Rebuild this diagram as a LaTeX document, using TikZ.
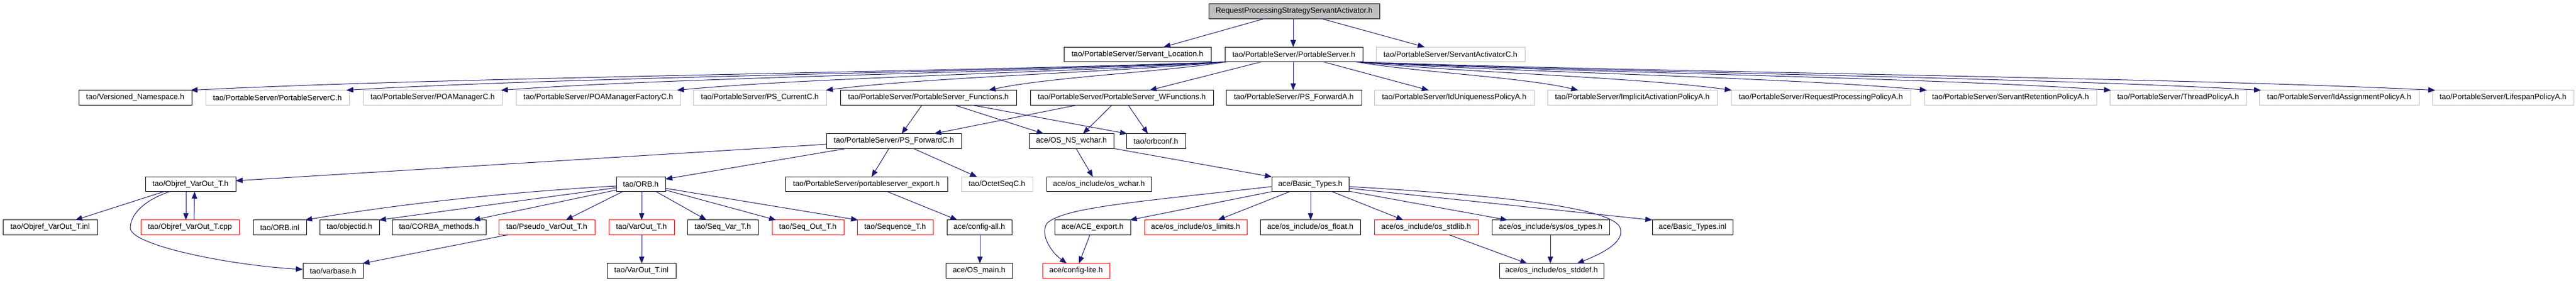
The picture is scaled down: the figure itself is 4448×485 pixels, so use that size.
\documentclass[tikz,border=0pt]{standalone}
\usepackage{fontspec}
\setmainfont{Liberation Sans}
\usetikzlibrary{arrows.meta,calc}
\definecolor{edgec}{HTML}{191970}
\definecolor{graybd}{HTML}{BFBFBF}
\definecolor{redbd}{HTML}{FF0000}
\begin{document}
\begin{tikzpicture}[x=0.75pt,y=-0.75pt,
  box/.style={rectangle,draw=black,line width=0.75pt,inner sep=0pt,outer sep=0pt,
    minimum height=25.5*0.75pt,font=\fontsize{9.9pt}{11pt}\selectfont,text=black},
  W/.style={minimum width=#1*0.75pt},
  gb/.style={box,draw=graybd},
  rb/.style={box,draw=redbd},
  rootn/.style={box,fill=graybd},
  e/.style={draw=edgec,line width=0.75pt,-{Triangle[length=9pt,width=7pt]},fill=none}]
\useasboundingbox (0,0) rectangle (4448,485);
% row 0
\node[rootn,W=295] (root) at (2234.5,19.5) {RequestProcessingStrategyServantActivator.h};
% row 1
\node[box,W=254] (sl) at (1964,94) {tao/PortableServer/Servant\_Location.h};
\node[box,W=238] (ps) at (2234,94) {tao/PortableServer/PortableServer.h};
\node[gb,W=257] (sac) at (2504.5,94) {tao/PortableServer/ServantActivatorC.h};
% row 2
\node[box,W=195] (vn) at (233.5,168.5) {tao/Versioned\_Namespace.h};
\node[gb,W=248] (psc) at (479,168.5) {tao/PortableServer/PortableServerC.h};
\node[gb,W=240] (pmc) at (747,168.5) {tao/PortableServer/POAManagerC.h};
\node[gb,W=284] (pmfc) at (1033,168.5) {tao/PortableServer/POAManagerFactoryC.h};
\node[gb,W=230] (pscur) at (1312,168.5) {tao/PortableServer/PS\_CurrentC.h};
\node[box,W=304] (fn) at (1603,168.5) {tao/PortableServer/PortableServer\_Functions.h};
\node[box,W=316] (wfn) at (1937,168.5) {tao/PortableServer/PortableServer\_WFunctions.h};
\node[box,W=234] (pfa) at (2234,168.5) {tao/PortableServer/PS\_ForwardA.h};
\node[gb,W=276] (iup) at (2511,168.5) {tao/PortableServer/IdUniquenessPolicyA.h};
\node[gb,W=293] (iap) at (2818.5,168.5) {tao/PortableServer/ImplicitActivationPolicyA.h};
\node[gb,W=310] (rpp) at (3144,168.5) {tao/PortableServer/RequestProcessingPolicyA.h};
\node[gb,W=297] (srp) at (3471.5,168.5) {tao/PortableServer/ServantRetentionPolicyA.h};
\node[gb,W=236] (tp) at (3761,168.5) {tao/PortableServer/ThreadPolicyA.h};
\node[gb,W=276] (iasp) at (4039,168.5) {tao/PortableServer/IdAssignmentPolicyA.h};
\node[gb,W=244] (lsp) at (4322,168.5) {tao/PortableServer/LifespanPolicyA.h};
% row 3
\node[box,W=233] (pfc) at (1543.5,243.5) {tao/PortableServer/PS\_ForwardC.h};
\node[box,W=146] (nsw) at (1850,243.5) {ace/OS\_NS\_wchar.h};
\node[box,W=102] (orbc) at (1996,243.5) {tao/orbconf.h};
% row 4
\node[box,W=156] (ovt) at (329,318) {tao/Objref\_VarOut\_T.h};
\node[box,W=85] (orb) at (1106.5,318) {tao/ORB.h};
\node[box,W=280] (pse) at (1496,318) {tao/PortableServer/portableserver\_export.h};
\node[gb,W=123] (osc) at (1721.5,318) {tao/OctetSeqC.h};
\node[box,W=181] (osw) at (1897.5,318) {ace/os\_include/os\_wchar.h};
\node[box,W=133] (bt) at (2262.5,318) {ace/Basic\_Types.h};
% row 5
\node[box,W=163] (ovti) at (86.5,392.5) {tao/Objref\_VarOut\_T.inl};
\node[rb,W=170] (ovtc) at (328,392.5) {tao/Objref\_VarOut\_T.cpp};
\node[box,W=92] (orbi) at (483,392.5) {tao/ORB.inl};
\node[box,W=103] (oid) at (603.5,392.5) {tao/objectid.h};
\node[box,W=162] (cm) at (758,392.5) {tao/CORBA\_methods.h};
\node[rb,W=166] (pvo) at (944,392.5) {tao/Pseudo\_VarOut\_T.h};
\node[rb,W=113] (vo) at (1107.5,392.5) {tao/VarOut\_T.h};
\node[box,W=122] (sv) at (1248,392.5) {tao/Seq\_Var\_T.h};
\node[rb,W=124] (so) at (1395,392.5) {tao/Seq\_Out\_T.h};
\node[rb,W=131] (seq) at (1545.5,392.5) {tao/Sequence\_T.h};
\node[box,W=112] (cfa) at (1691,392.5) {ace/config-all.h};
\node[box,W=131] (ace) at (1886.5,392.5) {ace/ACE\_export.h};
\node[rb,W=177] (lim) at (2064.5,392.5) {ace/os\_include/os\_limits.h};
\node[box,W=173] (flt) at (2262.5,392.5) {ace/os\_include/os\_float.h};
\node[rb,W=179] (stdl) at (2462.5,392.5) {ace/os\_include/os\_stdlib.h};
\node[box,W=203] (ost) at (2677.5,392.5) {ace/os\_include/sys/os\_types.h};
\node[box,W=139] (bti) at (2922.5,392.5) {ace/Basic\_Types.inl};
% row 6
\node[box,W=104] (vb) at (575,467.5) {tao/varbase.h};
\node[box,W=119] (voi) at (1107.5,467.5) {tao/VarOut\_T.inl};
\node[box,W=115] (osm) at (1690.5,467.5) {ace/OS\_main.h};
\node[rb,W=116] (cfl) at (1858,467.5) {ace/config-lite.h};
\node[box,W=180] (sdd) at (2679,467.5) {ace/os\_include/os\_stddef.h};

% edges from root
\draw[e] ($(root.south)+(-51.5,0)$) -- ($(sl.north)+(45,0)$);
\draw[e] ($(root.south)+(-1.5,0)$) -- ($(ps.north)+(-1,0)$);
\draw[e] ($(root.south)+(47.5,0)$) -- ($(sac.north)+(-44.5,0)$);
% fan from PortableServer.h (left)
\draw[e] ($(ps.south)+(-117,0)$) .. controls (1670,124) and (776,133) .. ($(vn.north)+(95.5,0)$);
\draw[e] ($(ps.south)+(-117,0)$) .. controls (1737,124) and (978,133) .. ($(psc.north)+(119,0)$);
\draw[e] ($(ps.south)+(-117,0)$) .. controls (1804,124) and (1178,133) .. ($(pmc.north)+(118,0)$);
\draw[e] ($(ps.south)+(-117,0)$) .. controls (1880,124) and (1406,133) .. ($(pmfc.north)+(136,0)$);
\draw[e] ($(ps.south)+(-117,0)$) .. controls (1944,124) and (1599,133) .. ($(pscur.north)+(114,0)$);
\draw[e] ($(ps.south)+(-117,0)$) .. controls (2014,124) and (1810,133) .. ($(fn.north)+(104,0)$);
\draw[e] ($(ps.south)+(-56,0)$) -- ($(wfn.north)+(48,0)$);
\draw[e] ($(ps.south)+(-1,0)$) -- ($(pfa.north)+(-1,0)$);
\draw[e] ($(ps.south)+(51,0)$) -- ($(iup.north)+(-44,0)$);
% fan (right)
\draw[e] ($(ps.south)+(108,0)$) .. controls (2438,124) and (2629,133) .. ($(iap.north)+(-93.5,0)$);
\draw[e] ($(ps.south)+(108,0)$) .. controls (2504,124) and (2828,133) .. ($(rpp.north)+(-154,0)$);
\draw[e] ($(ps.south)+(108,0)$) .. controls (2588,124) and (3081,133) .. ($(srp.north)+(-144.5,0)$);
\draw[e] ($(ps.south)+(108,0)$) .. controls (2668,124) and (3319,133) .. ($(tp.north)+(-116,0)$);
\draw[e] ($(ps.south)+(108,0)$) .. controls (2732,124) and (3514,133) .. ($(iasp.north)+(-135,0)$);
\draw[e] ($(ps.south)+(108,0)$) .. controls (2808,124) and (3739,133) .. ($(lsp.north)+(-117,0)$);
% row 2 -> row 3
\draw[e] ($(fn.south)+(-11,0)$) -- ($(pfc.north)+(13.5,0)$);
\draw[e] ($(fn.south)+(45,0)$) -- ($(nsw.north)+(-48,0)$);
\draw[e] ($(fn.south)+(75,0)$) -- ($(orbc.north)+(-50,0)$);
\draw[e] ($(wfn.south)+(-77,0)$) -- ($(pfc.north)+(69.5,0)$);
\draw[e] ($(wfn.south)+(-17,0)$) -- ($(nsw.north)+(20,0)$);
\draw[e] ($(wfn.south)+(11,0)$) -- ($(orbc.north)+(-14,0)$);
% row 3 -> row 4
\draw[e] ($(pfc.west)+(0,5.5)$) -- ($(ovt.east)+(0,-6)$);
\draw[e] ($(pfc.south)+(-81.5,0)$) -- ($(orb.east)+(0,-9)$);
\draw[e] ($(pfc.south)+(-8.5,0)$) -- ($(pse.north)+(9,0)$);
\draw[e] ($(pfc.south)+(33.5,0)$) -- ($(osc.north)+(-34.5,0)$);
\draw[e] ($(nsw.south)+(8,0)$) -- ($(osw.north)+(-10.5,0)$);
\draw[e] (nsw.south east) -- (bt.north west);
% row 4 -> row 5/6
\draw[e] ($(ovt.south)+(-46,0)$) -- ($(ovti.north)+(43.5,0)$);
\draw[e] ($(ovt.south)+(-8,0)$) -- ($(ovtc.north)+(-7,0)$);
\draw[e] ($(ovtc.north)+(7,0)$) -- ($(ovt.south)+(7,0)$);
\draw[e] ($(ovt.south)+(-36,0)$) .. controls (250,345) and (224,370) .. (225,395) .. controls (232,425) and (400,458) .. ($(vb.west)+(0,-2.5)$);
\draw[e] ($(orb.west)+(0,3)$) .. controls (900,330) and (700,350) .. ($(orbi.north)+(44,0)$);
\draw[e] ($(orb.west)+(0,6)$) -- ($(oid.north)+(51,0)$);
\draw[e] ($(orb.west)+(0,10)$) -- ($(cm.north)+(59,0)$);
\draw[e] ($(orb.south)+(-31.5,0)$) -- ($(pvo.north)+(33,0)$);
\draw[e] ($(orb.south)+(1.5,0)$) -- ($(vo.north)+(0.5,0)$);
\draw[e] ($(orb.south)+(26.5,0)$) -- ($(sv.north)+(-28,0)$);
\draw[e] ($(orb.east)+(0,10)$) -- ($(so.north)+(-55,0)$);
\draw[e] ($(orb.east)+(0,7)$) -- ($(seq.north)+(-64,0)$);
\draw[e] ($(pvo.south)+(-67,0)$) -- ($(vb.north)+(51,0)$);
\draw[e] ($(vo.south)+(0.5,0)$) -- ($(voi.north)+(0.5,0)$);
\draw[e] ($(pse.south)+(36,0)$) -- ($(cfa.north)+(-38,0)$);
\draw[e] ($(cfa.south)+(1,0)$) -- ($(osm.north)+(1.5,0)$);
\draw[e] (bt.south west) -- ($(ace.north east)+(-1,0)$);
\draw[e] ($(bt.west)+(0,4)$) .. controls (1950,350) and (1840,358) .. (1808,385) .. controls (1795,405) and (1815,435) .. ($(cfl.north)+(-16,0)$);
\draw[e] ($(bt.south)+(-35.5,0)$) -- ($(lim.north)+(38.5,0)$);
\draw[e] ($(bt.south)+(0.5,0)$) -- ($(flt.north)+(0.5,0)$);
\draw[e] ($(bt.south)+(37.5,0)$) -- ($(stdl.north)+(-39.5,0)$);
\draw[e] ($(bt.east)+(0,12)$) -- ($(ost.north)+(-74.5,0)$);
\draw[e] ($(bt.east)+(0,7)$) -- (bti.north west);
\draw[e] ($(bt.east)+(0,4)$) .. controls (2550,335) and (2790,355) .. (2798,395) .. controls (2805,420) and (2760,440) .. ($(sdd.north)+(44,0)$);
\draw[e] ($(ost.south)+(-0.5,0)$) -- ($(sdd.north)+(-2,0)$);
\draw[e] ($(stdl.south)+(39.5,0)$) -- ($(sdd.north)+(-42,0)$);
\draw[e] ($(ace.south)+(-4.5,0)$) -- ($(cfl.north)+(5,0)$);
\end{tikzpicture}
\end{document}
